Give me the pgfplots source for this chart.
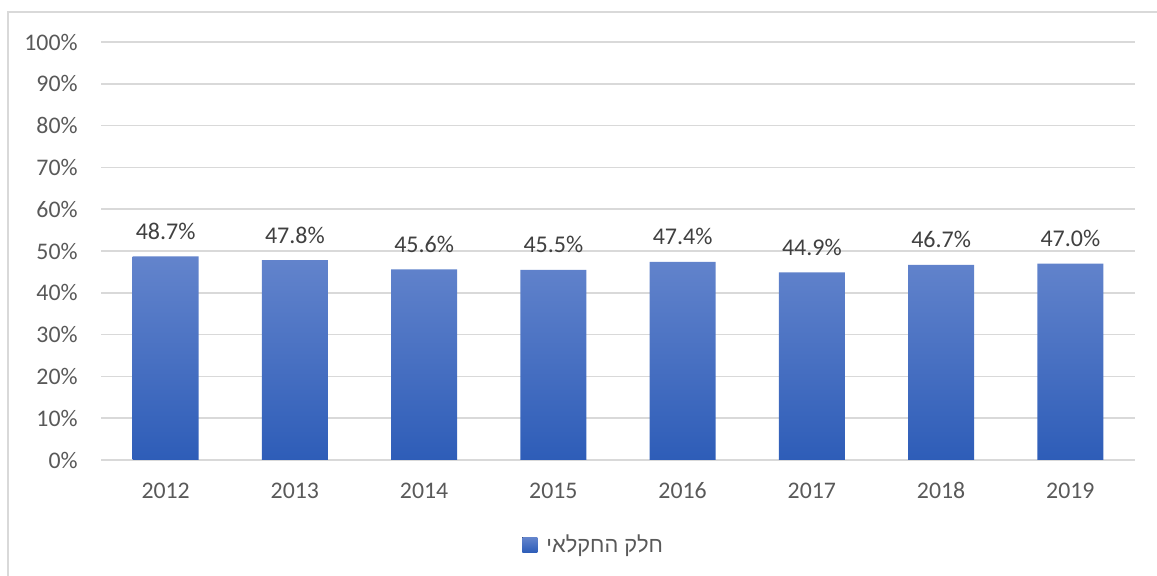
\documentclass[border=0pt]{standalone}
\usepackage{pgfplots}
\pgfplotsset{compat=1.18}
\usepackage{fontspec}
\setmainfont{Carlito}
\newfontfamily\hebfont[Script=Hebrew]{Liberation Sans}
\TeXXeTstate=1
\definecolor{gridc}{HTML}{D9D9D9}
\definecolor{tickc}{HTML}{595959}
\definecolor{labc}{HTML}{404040}
\definecolor{bartop}{HTML}{6384CC}
\definecolor{barbot}{HTML}{2E5DB8}
\begin{document}
\begin{tikzpicture}[x=1pt,y=1pt]
\useasboundingbox (0,0) rectangle (578.5,288);
\draw[gridc, line width=0.7pt] (4,0) -- (4,282) -- (578.5,282);
\begin{axis}[
  at={(50.5pt,58pt)}, anchor=south west, scale only axis,
  width=517pt, height=209pt,
  xmin=-0.5, xmax=7.5, ymin=0, ymax=100,
  axis line style={draw=none},
  major tick length=0pt, tick style={draw=none},
  ymajorgrids, grid style={gridc, line width=0.75pt},
  ytick={0,10,...,100},
  yticklabels={0\%,10\%,20\%,30\%,40\%,50\%,60\%,70\%,80\%,90\%,100\%},
  xtick={0,...,7},
  xticklabels={2012,2013,2014,2015,2016,2017,2018,2019},
  yticklabel style={anchor=east, inner sep=0pt, xshift=-11.5pt, font=\fontsize{11.9}{14}\selectfont, text=tickc},
  xticklabel style={anchor=base, inner sep=0pt, yshift=-19.5pt, font=\fontsize{11.9}{14}\selectfont, text=tickc},
  nodes near coords={\pgfmathprintnumber[fixed,fixed zerofill,precision=1,assume math mode=true]{\pgfplotspointmeta}\%},
  every node near coord/.append style={anchor=base, yshift=8.5pt, inner sep=0pt, font=\fontsize{12}{14}\selectfont, text=labc},
  legend style={at={(0.4775,-0.203)}, anchor=center, draw=none, fill=none, font=\fontsize{10.9}{14}\selectfont, text=tickc, inner sep=0pt},
  legend image code/.code={\fill[top color=bartop, bottom color=barbot, draw=none] (0pt,-3.75pt) rectangle (7.5pt,3.75pt); \path (10pt,0pt);},
]
\addplot[ybar, bar width=33pt, draw=none, top color=bartop, bottom color=barbot, bar shift=0pt]
  coordinates {(0,48.7) (1,47.8) (2,45.6) (3,45.5) (4,47.4) (5,44.9) (6,46.7) (7,47.0)};
\addlegendentry{\hebfont\beginR חלק החקלאי\endR}
\end{axis}
\end{tikzpicture}
\end{document}
